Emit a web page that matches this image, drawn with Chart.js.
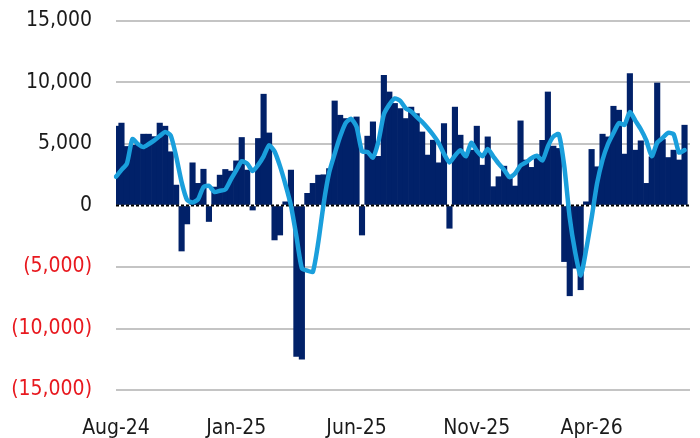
<!DOCTYPE html>
<html lang="en">
<head>
<meta charset="UTF-8">
<title>Weekly flows</title>
<script src="https://cdn.jsdelivr.net/npm/chart.js"></script>
<style>
  body { margin: 0; background: #fff; }
  #chart { display: block; }
</style>
</head>
<body>
<canvas id="chart" width="700" height="438"></canvas>
<script>
// x-axis labels that are shown (first week of these months)
const tickLabels = ['Aug-24', 'Jan-25', 'Jun-25', 'Nov-25', 'Apr-26'];

// weekly bars
const weeklyFlows = [
  6450, 6700, 4800, 4900, 5000, 5800, 5800, 5600, 6700, 6450,
  4370, 1660, -3700, -1500, 3470, 1800, 2950, -1300, 1500, 2470,
  2930, 2800, 3630, 5530, 2880, -370, 5450, 9050, 5900, -2800,
  -2400, 300, 2880, -12260, -12500, 990, 1800, 2470, 2500, 3000,
  8500, 7340, 7070, 7000, 7200, -2400, 5640, 6800, 4000, 10580,
  9230, 8300, 7880, 7070, 8000, 7470, 5980, 4100, 5310, 3470,
  6660, -1850, 8000, 5720, 4000, 4500, 6450, 3280, 5580, 1530,
  2340, 3200, 2200, 1580, 6880, 3700, 3100, 4100, 5300, 9230,
  4830, 4640, -4560, -7340, -5100, -6850, 300, 4560, 3150, 5800,
  5580, 8070, 7750, 4180, 10720, 4500, 5260, 1800, 3960, 9960,
  5370, 3900, 4500, 3700, 6530
];

// 4-week average line
const avgFlows = [
  2340, 2900, 3420, 5400, 5000, 4750, 5000, 5300, 5650, 5980,
  5700, 4000, 1900, 450, 250, 500, 1500, 1600, 1100, 1200,
  1300, 2100, 2850, 3600, 3400, 2800, 3300, 4000, 4900, 4400,
  3200, 1700, 0, -2500, -5100, -5300, -5400, -3000, 200, 2700,
  4200, 5600, 6700, 7050, 6400, 4400, 4350, 3900, 5200, 7400,
  8200, 8700, 8500, 7900, 7650, 7200, 6800, 6300, 5750, 5100,
  4200, 3500, 4050, 4500, 4000, 5100, 4450, 4000, 4600, 4000,
  3400, 2900, 2300, 2600, 3250, 3500, 3850, 4050, 3650, 4800,
  5600, 5800, 3200, -1000, -3800, -5700, -3600, -1000, 1800, 3700,
  5000, 5900, 6700, 6550, 7600, 6900, 6200, 5300, 4000, 5100,
  5500, 5900, 5800, 4300, 4500
];

const monthNames = ['Jan','Feb','Mar','Apr','May','Jun','Jul','Aug','Sep','Oct','Nov','Dec'];

// one category per week, starting 2 Aug 2024 (plus one spare week at the end)
const weeks = [];
const weekMonths = [];
for (let i = 0; i <= weeklyFlows.length; i++) {
  const d = new Date(Date.UTC(2024, 7, 2 + 7 * i));
  weeks.push(d.toISOString().slice(0, 10));
  weekMonths.push(monthNames[d.getUTCMonth()] + '-' + String(d.getUTCFullYear()).slice(2));
}

const NAVY = '#012169';
const BLUE = '#1a9fdc';
const RED = '#e8191f';

function fmt(v) {
  const s = Math.abs(v).toLocaleString('en-US');
  return v < 0 ? '(' + s + ')' : s;
}

// dotted black zero line drawn over the bars, under the average line
const zeroLine = {
  id: 'zeroLine',
  afterDatasetDraw(chart, args) {
    if (args.index !== 0) return;
    const { ctx, chartArea } = chart;
    const y = chart.scales.y.getPixelForValue(0);
    ctx.save();
    ctx.beginPath();
    ctx.setLineDash([3, 2]);
    ctx.lineWidth = 2;
    ctx.strokeStyle = '#000';
    ctx.moveTo(chartArea.left, y);
    ctx.lineTo(chartArea.right, y);
    ctx.stroke();
    ctx.restore();
  }
};

Chart.defaults.font.family = '"Liberation Sans Narrow", "DejaVu Sans Condensed", sans-serif';
Chart.defaults.font.size = 21;
Chart.defaults.color = '#1a1a1a';

new Chart(document.getElementById('chart').getContext('2d'), {
  data: {
    labels: weeks,
    datasets: [
      {
        type: 'bar',
        data: weeklyFlows,
        backgroundColor: NAVY,
        barPercentage: 1,
        categoryPercentage: 1,
        borderWidth: 0,
        order: 2
      },
      {
        type: 'line',
        data: avgFlows,
        borderColor: BLUE,
        borderWidth: 4.5,
        pointRadius: 0,
        tension: 0.2,
        borderJoinStyle: 'round',
        borderCapStyle: 'round',
        order: 1
      }
    ]
  },
  options: {
    responsive: false,
    animation: false,
    layout: { padding: { top: 0, right: 10, bottom: 0, left: 0 } },
    plugins: {
      legend: { display: false },
      tooltip: { enabled: false }
    },
    scales: {
      x: {
        offset: false,
        grid: { display: false },
        border: { display: false },
        ticks: {
          autoSkip: false,
          maxRotation: 0,
          padding: 18,
          callback: (value, index) => {
            const m = weekMonths[index];
            const first = index === 0 || weekMonths[index - 1] !== m;
            return first && tickLabels.includes(m) ? m : '';
          }
        },
        afterFit: s => { s.height = 48; s.paddingLeft = 0; s.paddingRight = 0; }
      },
      y: {
        min: -15000,
        max: 15000,
        border: { display: false },
        grid: {
          drawTicks: false,
          lineWidth: 2,
          color: ctx => ctx.tick && ctx.tick.value === 0 ? 'rgba(0,0,0,0)' : '#c4c4c4'
        },
        ticks: {
          stepSize: 5000,
          padding: 24,
          color: ctx => ctx.tick && ctx.tick.value < 0 ? RED : '#1a1a1a',
          callback: v => fmt(v)
        },
        afterFit: s => { s.width = 116; s.paddingTop = 21; }
      }
    }
  },
  plugins: [zeroLine]
});
</script>
</body>
</html>
